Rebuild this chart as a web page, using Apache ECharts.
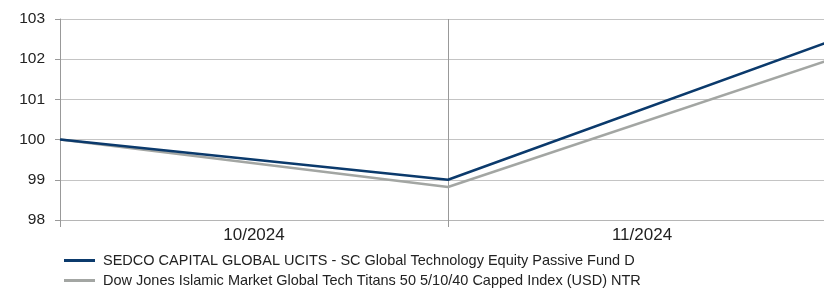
<!DOCTYPE html>
<html>
<head>
<meta charset="utf-8">
<script src="https://cdn.jsdelivr.net/npm/echarts@6/dist/echarts.min.js"></script>
<style>
html,body{margin:0;padding:0;background:#fff;overflow:hidden;}
/* the plot runs a little past the right edge of the picture */
#main{width:836px;height:291px;}
</style>
</head>
<body>
<div id="main"></div>
<script>
// months shown on the axis, points sit on month boundaries
var months = ['10/2024', '11/2024'];
var pointPos = [0, 1, 2];
var fundName = 'SEDCO CAPITAL GLOBAL UCITS - SC Global Technology Equity Passive Fund D';
var indexName = 'Dow Jones Islamic Market Global Tech Titans 50 5/10/40 Capped Index (USD) NTR';
var fundVals = [100, 99.0, 102.5];
var indexVals = [100, 98.82, 102.04];

function pairs(vals) {
    var out = [];
    for (var i = 0; i < vals.length; i++) out.push([pointPos[i], vals[i]]);
    return out;
}

var myChart = echarts.init(document.getElementById('main'));
var font = 'Liberation Sans, Arial, sans-serif';
option = {
    animation: false,
    textStyle: { fontFamily: font },
    grid: { left: 60, right: 0, top: 19, bottom: 71 },
    legend: {
        orient: 'vertical',
        left: 59,
        top: 248,
        height: 60,
        icon: 'rect',
        itemWidth: 31,
        itemHeight: 3,
        itemGap: 5,
        textStyle: { fontSize: 14.5, color: '#222', fontFamily: font, padding: [0, 0, 0, 3] },
        data: [fundName, indexName]
    },
    xAxis: [
        {
            type: 'category',
            data: months,
            boundaryGap: true,
            axisLine: { show: true, lineStyle: { color: '#b5b5b5' } },
            axisTick: { show: true, length: 7, lineStyle: { color: '#999' } },
            axisLabel: { fontSize: 17, color: '#222', margin: 7 },
            splitLine: { show: true, lineStyle: { color: '#999', width: 1 } }
        },
        {
            type: 'value',
            min: 0,
            max: 2,
            show: false
        }
    ],
    yAxis: {
        type: 'value',
        min: 98,
        max: 103,
        interval: 1,
        axisLine: { show: true, lineStyle: { color: '#999' } },
        axisTick: { show: true, length: 5, lineStyle: { color: '#999' } },
        axisLabel: { fontSize: 15.5, color: '#222', margin: 15 },
        splitLine: { show: true, lineStyle: { color: '#c4c4c4' } }
    },
    series: [
        {
            name: indexName,
            type: 'line',
            xAxisIndex: 1,
            symbol: 'none',
            lineStyle: { color: '#a3a6a3', width: 2.5 },
            itemStyle: { color: '#a3a6a3' },
            data: pairs(indexVals)
        },
        {
            name: fundName,
            type: 'line',
            xAxisIndex: 1,
            symbol: 'none',
            lineStyle: { color: '#0b3a6c', width: 2.5 },
            itemStyle: { color: '#0b3a6c' },
            data: pairs(fundVals)
        }
    ]
};
myChart.setOption(option);
</script>
</body>
</html>
